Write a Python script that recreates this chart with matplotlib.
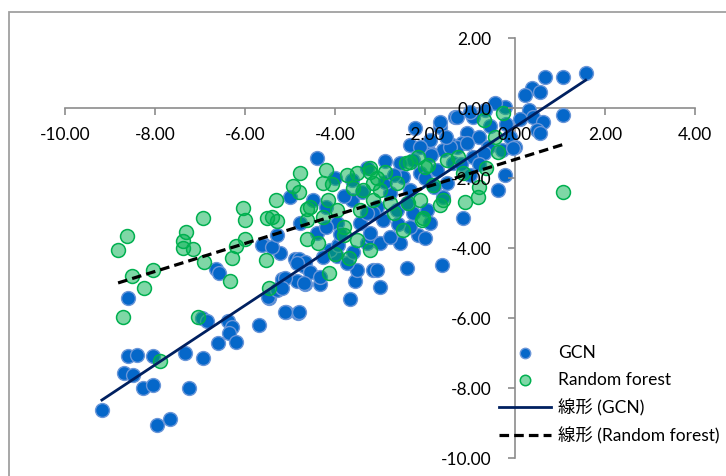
import numpy as np
import matplotlib
matplotlib.use('Agg')
import matplotlib.pyplot as plt
from matplotlib.patches import Rectangle

plt.rcParams['font.family'] = ['Lato', 'Noto Sans CJK JP', 'DejaVu Sans']

# GCN predictions (x, y)
gcn = [(-9.18, -8.63), (-8.61, -5.42), (-8.61, -7.09), (-8.41, -7.06), (-8.04, -7.09), (-8.70, -7.56),
       (-8.50, -7.64), (-8.26, -7.99), (-8.04, -7.90), (-7.95, -9.06), (-7.67, -8.88), (-7.33, -7.01),
       (-7.24, -7.99), (-6.94, -7.14), (-6.96, -5.99), (-6.85, -6.09), (-6.61, -6.72), (-6.37, -6.09),
       (-6.30, -6.25), (-6.35, -6.42), (-6.20, -6.69), (-6.64, -4.61), (-6.57, -4.70), (-5.70, -6.21),
       (-5.46, -5.42), (-5.09, -5.83), (-4.83, -5.85), (-5.24, -5.13), (-5.18, -4.89), (-4.85, -4.94),
       (-4.67, -5.04), (-4.33, -5.04), (-3.67, -5.47), (-3.56, -4.94), (-5.59, -3.89), (-5.22, -4.13),
       (-4.90, -4.30), (-4.70, -4.50), (-3.96, -4.23), (-5.63, -3.91), (-5.41, -3.96), (-5.48, -5.39),
       (-5.30, -5.20), (-4.41, -1.44), (-5.00, -2.53), (-5.30, -3.63), (-4.81, -4.30), (-4.67, -4.39),
       (-4.85, -4.44), (-4.56, -4.68), (-4.33, -4.82), (-4.70, -5.01), (-5.11, -4.87), (-5.18, -5.15),
       (-5.11, -5.82), (-4.81, -5.82), (-3.15, -4.63), (-3.52, -4.63), (-3.74, -4.44), (-4.11, -4.06),
       (-3.93, -3.91), (-4.26, -4.25), (-3.30, -3.87), (-3.22, -3.68), (-3.00, -5.10), (-3.07, -4.63),
       (-2.41, -4.58), (-1.63, -4.49), (-2.56, -3.87), (-2.15, -3.63), (-3.00, -3.87),
       (0.67, 0.90), (1.07, 0.90), (1.57, 1.00), (0.37, 0.56), (0.56, 0.47), (0.22, 0.37), (0.30, -0.06),
       (0.41, -0.25), (0.63, -0.39), (0.48, -0.63), (1.07, -0.20), (-0.22, 0.04), (-0.44, 0.13),
       (-0.67, -0.06), (-0.93, -0.25), (-1.33, -0.25), (-1.67, -0.53), (-1.07, -0.72), (-0.81, -0.82),
       (-0.59, -1.11), (-0.11, -0.82), (0.00, -1.11), (-1.41, -1.06), (-1.18, -1.01), (-0.93, -1.39),
       (-0.30, -1.20), (-0.22, -1.91), (-0.37, -2.34), (-0.04, -1.15), (-0.70, -1.29), (-1.16, -3.15),
       (0.55, -0.72), (-1.30, -1.10), (-1.07, -1.00), (-1.59, -1.20), (-1.89, -1.29), (-2.26, -1.49),
       (-2.56, -1.58), (-2.48, -1.96), (-2.11, -1.87), (-1.74, -1.77), (-1.37, -1.58), (-2.33, -2.34),
       (-1.81, -2.25), (-1.52, -2.15), (-2.78, -2.44), (-3.07, -2.82), (-2.63, -2.91), (-2.93, -3.20),
       (-2.26, -3.01), (-1.96, -2.91), (-1.89, -3.29), (-2.33, -3.39), (-2.78, -3.68), (-1.59, -2.53),
       (-2.41, -2.72), (-4.48, -2.63), (-4.19, -2.82), (-3.63, -2.06), (-3.63, -2.63), (-3.96, -3.29),
       (-3.44, -3.29), (-4.78, -3.29), (-4.41, -3.58), (-3.22, -3.58), (-3.15, -3.01),
       (-2.22, -0.57), (-1.67, -0.40), (-1.89, -0.91), (-2.33, -1.06), (-1.00, -0.11), (-1.30, -0.25),
       (-2.12, -1.11), (-1.86, -1.34), (-1.45, -1.11), (-1.53, -0.82),
       (-3.40, -2.40), (-3.80, -2.50), (-2.90, -2.10), (-3.30, -3.00), (-2.00, -2.00), (-1.20, -1.60),
       (-1.00, -1.90), (-0.80, -1.60), (-2.70, -1.90), (-3.90, -3.60), (-4.20, -3.40), (-3.60, -4.10),
       (-2.60, -3.30), (-2.00, -3.70), (-4.00, -2.00), (-3.30, -1.70), (-2.90, -1.50), (-0.55, -0.50),
       (0.10, -0.30), (-0.20, -0.45)]

# Random forest predictions (x, y)
rf = [(-4.78, -1.87), (-4.20, -1.77), (-4.26, -2.13), (-4.07, -2.18), (-4.93, -2.23), (-4.81, -2.39),
      (-5.31, -2.63), (-4.16, -2.63), (-4.63, -2.89), (-6.04, -2.85), (-6.00, -3.20), (-5.52, -3.15),
      (-5.41, -3.11), (-5.30, -3.22), (-6.94, -3.13), (-7.31, -3.53), (-8.63, -3.66), (-3.74, -1.91),
      (-3.52, -1.87), (-8.82, -4.07), (-7.37, -3.80), (-7.37, -3.99), (-7.15, -4.02), (-8.52, -4.80),
      (-8.05, -4.63), (-8.24, -5.13), (-8.72, -5.97), (-6.91, -4.40), (-7.04, -5.97), (-7.90, -7.23),
      (-6.33, -4.94), (-6.30, -4.28), (-6.20, -3.94), (-6.00, -3.75), (-5.53, -4.34), (-5.46, -5.13),
      (-4.13, -4.70), (-4.00, -4.18), (-3.70, -4.28), (-4.63, -3.75), (-4.37, -3.85),
      (-3.22, -1.82), (-3.07, -2.01), (-3.59, -2.29), (-3.37, -2.34), (-4.56, -2.82), (-4.63, -3.20),
      (-4.26, -3.11), (-3.96, -2.91), (-3.81, -3.39), (-3.44, -2.91), (-3.15, -2.63),
      (-2.89, -1.82), (-3.15, -2.15), (-3.00, -2.34), (-2.63, -2.15), (-2.33, -1.53), (-2.15, -1.39),
      (-1.93, -1.63), (-1.52, -1.49), (-1.26, -1.39), (-2.11, -2.63), (-1.67, -2.77), (-1.11, -2.68),
      (-2.07, -3.20), (-2.48, -3.49), (-2.70, -3.01), (-2.37, -2.72), (-2.78, -2.72),
      (-3.22, -4.06), (-3.52, -3.77), (-3.81, -3.63),
      (-0.26, -0.15), (-0.70, -0.34), (-0.44, -0.82), (-0.37, -1.25), (-0.64, -1.72), (-0.79, -2.25),
      (-0.82, -2.53), (-1.16, -1.87), (1.07, -2.39), (-2.42, -1.58), (-3.23, -1.72), (-2.01, -1.68),
      (-1.82, -2.20), (-1.60, -2.63), (-2.04, -3.15)]

# linear trendlines (slope, intercept) as shown by Excel
gcn_fit = (0.85, -0.54)
rf_fit = (0.40, -1.47)

gx, gy = np.array(gcn).T
rx, ry = np.array(rf).T

fig = plt.figure(figsize=(7.26, 4.76), dpi=100)
ax = fig.add_axes([65/726, 18/476, 630/726, 420/476])

# chart area border
fig.patches.append(Rectangle((9/726, -0.1), 1.2, (476-12)/476 + 0.1, transform=fig.transFigure,
                             fill=False, edgecolor='#a0a0a0', linewidth=1.3))

ax.scatter(gx, gy, s=100, facecolor='#0567C9', edgecolor='#6a96d8', linewidth=1, label='GCN', zorder=2)
ax.scatter(rx, ry, s=100, facecolor=(0, 0.69, 0.31, 0.5), edgecolor='#00B050', linewidth=1.1,
           label='Random forest', zorder=3)

xs = np.array([gx.min(), gx.max()])
ax.plot(xs, gcn_fit[0] * xs + gcn_fit[1], color='#002060', lw=2, label='線形 (GCN)', zorder=4)
xs = np.array([rx.min(), rx.max()])
ax.plot(xs, rf_fit[0] * xs + rf_fit[1], color='black', lw=2.3, dashes=(3, 1.6),
        label='線形 (Random forest)', zorder=4)

ax.set_xlim(-10, 4)
ax.set_ylim(-10, 2)
ax.set_xticks(np.arange(-10, 5, 2))
ax.set_yticks(np.arange(-10, 3, 2))
ax.xaxis.set_major_formatter(matplotlib.ticker.FormatStrFormatter('%.2f'))
ax.yaxis.set_major_formatter(matplotlib.ticker.FormatStrFormatter('%.2f'))
ax.spines['left'].set_position(('data', 0))
ax.spines['bottom'].set_position(('data', 0))
ax.spines['top'].set_visible(False)
ax.spines['right'].set_visible(False)
for s in ('left', 'bottom'):
    ax.spines[s].set_color('#8c8c8c')
    ax.spines[s].set_linewidth(1.2)
    ax.spines[s].set_zorder(1)
ax.tick_params(axis='both', colors='#8c8c8c', labelcolor='black', labelsize=12.5, length=5, width=1.2)
ax.tick_params(axis='x', pad=9)
ax.tick_params(axis='y', pad=12)
# tick labels sit on top of the markers, as in Excel
ax.xaxis.set_zorder(5)
ax.yaxis.set_zorder(5)
ax.patch.set_visible(False)

leg = ax.legend(loc='upper left', bbox_to_anchor=(499/726, 1 - 345/476), bbox_transform=fig.transFigure,
                frameon=False, fontsize=12.5, handlelength=3.0, handletextpad=0.4, labelspacing=0.63,
                borderpad=0, borderaxespad=0, markerscale=0.75)

plt.savefig('out.png', dpi=100)
